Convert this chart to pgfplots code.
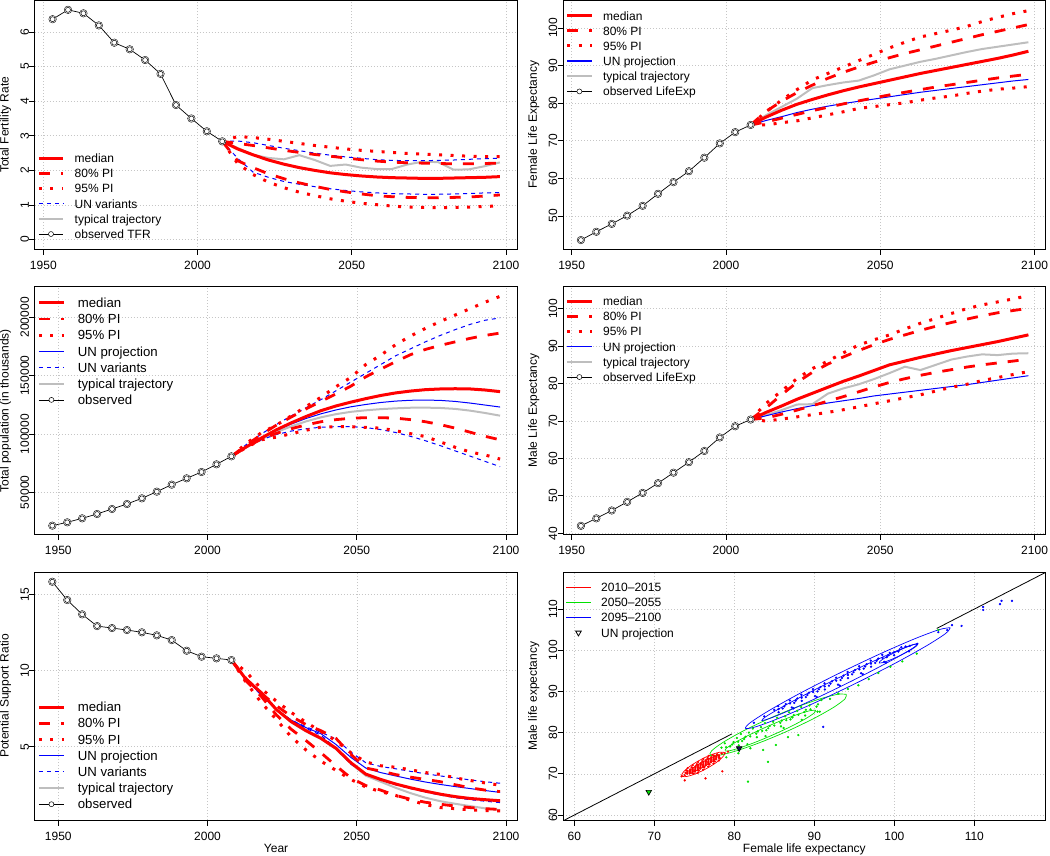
\documentclass[border=0pt]{standalone}
\usepackage{fontspec}
\setmainfont{Liberation Sans}
\usepackage{pgfplots}
\usepackage{pgfplotstable}
\pgfplotsset{compat=1.18}

\definecolor{rred}{RGB}{255,0,0}
\definecolor{rblue}{RGB}{0,0,255}
\definecolor{rgray}{RGB}{190,190,190}
\definecolor{rgreen}{RGB}{0,225,0}
\definecolor{navyfill}{RGB}{20,20,90}

\newcommand{\fs}{\fontsize{12}{14}\selectfont}
\newcommand{\fsb}{\fontsize{13.2}{15}\selectfont}

\pgfplotsset{
  rpanel/.style={
    scale only axis, anchor=south west,
    width=482.7pt, height=248.3pt,
    enlargelimits=false, clip=true,
    axis line style={line width=0.8pt},
    tick pos=left, tick align=outside, major tick length=5.5pt,
    every tick/.style={black, line width=0.8pt},
    grid=major, major grid style={gray!45, line width=0.6pt, dash pattern=on 0.8pt off 2.2pt},
    ticklabel style={font=\fs},
    /pgf/number format/fixed,
    /pgf/number format/assume math mode=true,
    /pgf/number format/1000 sep={},
    scaled ticks=false,
    xticklabel shift=6pt,
    xticklabel style={anchor=north, inner sep=0pt},
    yticklabel style={rotate=90, anchor=south, inner sep=0pt},
    every axis x label/.style={at={(rel axis cs:0.5,0)}, anchor=north, inner sep=0pt, yshift=-24pt, font=\fs},
    every axis y label/.style={at={(rel axis cs:0,0.5)}, xshift=-23.5pt, rotate=90, anchor=south, inner sep=0pt, font=\fs},
  },
  tpanel/.style={rpanel, xtick={1950,2000,2050,2100}},
  leg12/.style={legend cell align=left,
    legend style={draw=none, fill=none, at={(0,1)}, anchor=north west, inner sep=0pt, outer sep=0pt,
      row sep=0pt, font=\fs, nodes={inner sep=0pt, text height=10pt, text depth=5.15pt},
      /tikz/every odd column/.append style={column sep=10pt}},
    legend image code/.code={\draw[mark repeat=2,mark phase=2,##1] plot coordinates {(0pt,1.9pt) (12.2pt,1.9pt) (24.4pt,1.9pt)};}},
  leg13/.style={legend cell align=left,
    legend style={draw=none, fill=none, at={(0,1)}, anchor=north west, inner sep=0pt, outer sep=0pt,
      row sep=0pt, font=\fsb, nodes={inner sep=0pt, text height=10.8pt, text depth=5.4pt},
      /tikz/every odd column/.append style={column sep=12.3pt}},
    legend image code/.code={\draw[mark repeat=2,mark phase=2,##1] plot coordinates {(0pt,2pt) (12.65pt,2pt) (25.3pt,2pt)};}},
  med/.style={color=rred, line width=3pt},
  pi80/.style={color=rred, line width=2.8pt, dash pattern=on 11pt off 11pt},
  pi95/.style={color=rred, line width=3pt, dash pattern=on 3pt off 8.5pt},
  unproj/.style={color=rblue, line width=1pt},
  unvar/.style={color=rblue, line width=1pt, dash pattern=on 4pt off 4pt},
  unprojL/.style={draw=rblue, line width=1.3pt},
  unvarL/.style={draw=rblue, line width=1.3pt, dash pattern=on 4pt off 4pt},
  typ/.style={color=rgray, line width=2pt},
  obsleg/.style={color=black, line width=0.7pt, mark=*, mark size=2.5pt, mark options={solid, fill=white, draw=black, line width=0.5pt}},
  obsline/.style={color=black, line width=0.7pt, forget plot},
  obshalo/.style={only marks, mark=*, mark size=3.8pt, mark options={fill=white, draw=none}, forget plot},
  obsmark/.style={only marks, mark=*, mark size=2.5pt, mark options={fill=white, draw=black, line width=0.5pt}, forget plot},
  pts/.style={only marks, mark=*, mark size=0.95pt, mark options={draw=none}, forget plot},
  ell/.style={line width=0.7pt, smooth, forget plot},
}

% observed series
\pgfplotstableread{
yr v
1953 6.37
1958 6.64
1963 6.54
1968 6.19
1973 5.69
1978 5.50
1983 5.19
1988 4.79
1993 3.89
1998 3.50
2003 3.13
2008 2.84
}\obsTFR
\pgfplotstableread{
yr v
1953 43.6
1958 45.8
1963 47.9
1968 50.1
1973 52.7
1978 55.9
1983 59.0
1988 61.9
1993 65.5
1998 69.3
2003 72.3
2008 74.2
}\obsFLE
\pgfplotstableread{
yr v
1948 21430
1953 24290
1958 27720
1963 31430
1968 35710
1973 40000
1978 44860
1983 50570
1988 56570
1993 62000
1998 67430
2003 74000
2008 80860
}\obsPOP
\pgfplotstableread{
yr v
1953 42.0
1958 44.0
1963 46.1
1968 48.4
1973 50.8
1978 53.4
1983 56.2
1988 59.0
1993 62.0
1998 65.6
2003 68.6
2008 70.4
}\obsMLE
\pgfplotstableread{
yr v
1948 15.83
1953 14.63
1958 13.69
1963 12.92
1968 12.79
1973 12.66
1978 12.51
1983 12.31
1988 12.00
1993 11.30
1998 10.91
2003 10.80
2008 10.69
}\obsPSR

\begin{document}
\begin{tikzpicture}
\useasboundingbox (0,0) rectangle (1050pt,-856pt);

% ---------------- Total fertility rate ----------------
\begin{axis}[tpanel, at={(34.7pt,-249.3pt)}, height=248.8pt,
  xmin=1947.2, xmax=2103.7, ymin=-0.28, ymax=6.91, ytick={0,1,...,6},
  ylabel={Total Fertility Rate},
  leg12, legend style={xshift=2.6pt, yshift=-152.1pt}]
\addplot[typ, forget plot] coordinates {(2008,2.84)(2013,2.65)(2018,2.45)(2023,2.36)(2028,2.32)(2033,2.44)(2038,2.30)(2043,2.13)(2048,2.17)(2053,2.08)(2058,2.04)(2063,2.04)(2068,2.17)(2073,2.25)(2078,2.24)(2083,2.02)(2088,2.03)(2093,2.12)(2098,2.23)};
\addplot[unvar, forget plot] coordinates {(2008,2.84)(2013,2.85)(2018,2.80)(2023,2.72)(2028,2.64)(2033,2.57)(2038,2.50)(2043,2.44)(2048,2.39)(2053,2.35)(2058,2.31)(2063,2.29)(2068,2.28)(2073,2.28)(2078,2.29)(2083,2.30)(2088,2.32)(2093,2.34)(2098,2.35)};
\addplot[unvar, forget plot] coordinates {(2008,2.84)(2013,2.35)(2018,1.95)(2023,1.80)(2028,1.68)(2033,1.60)(2038,1.53)(2043,1.47)(2048,1.42)(2053,1.38)(2058,1.35)(2063,1.33)(2068,1.32)(2073,1.31)(2078,1.31)(2083,1.32)(2088,1.33)(2093,1.35)(2098,1.36)};
\addplot[pi95, forget plot] coordinates {(2008,2.84)(2013,2.98)(2018,2.95)(2023,2.90)(2028,2.84)(2033,2.78)(2038,2.72)(2043,2.67)(2048,2.62)(2053,2.58)(2058,2.55)(2063,2.52)(2068,2.49)(2073,2.47)(2078,2.45)(2083,2.43)(2088,2.41)(2093,2.40)(2098,2.40)};
\addplot[pi95, forget plot] coordinates {(2008,2.84)(2013,2.20)(2018,1.88)(2023,1.66)(2028,1.50)(2033,1.37)(2038,1.27)(2043,1.18)(2048,1.11)(2053,1.05)(2058,1.01)(2063,0.97)(2068,0.94)(2073,0.93)(2078,0.92)(2083,0.93)(2088,0.94)(2093,0.96)(2098,0.97)};
\addplot[pi80, forget plot] coordinates {(2008,2.84)(2013,2.78)(2018,2.72)(2023,2.65)(2028,2.58)(2033,2.52)(2038,2.46)(2043,2.41)(2048,2.36)(2053,2.31)(2058,2.27)(2063,2.24)(2068,2.22)(2073,2.21)(2078,2.20)(2083,2.19)(2088,2.19)(2093,2.20)(2098,2.21)};
\addplot[pi80, forget plot] coordinates {(2008,2.84)(2013,2.28)(2018,2.08)(2023,1.90)(2028,1.76)(2033,1.64)(2038,1.54)(2043,1.45)(2048,1.38)(2053,1.32)(2058,1.27)(2063,1.24)(2068,1.22)(2073,1.21)(2078,1.21)(2083,1.22)(2088,1.23)(2093,1.26)(2098,1.29)};
\addplot[med, forget plot] coordinates {(2008,2.84)(2013,2.62)(2018,2.45)(2023,2.30)(2028,2.18)(2033,2.08)(2038,2.00)(2043,1.93)(2048,1.88)(2053,1.84)(2058,1.81)(2063,1.79)(2068,1.78)(2073,1.77)(2078,1.77)(2083,1.78)(2088,1.79)(2093,1.80)(2098,1.82)};
\addplot[obsline] table[x=yr,y=v] {\obsTFR};
\addplot[obshalo] table[x=yr,y=v] {\obsTFR};
\addplot[obsmark] table[x=yr,y=v] {\obsTFR};
\addlegendimage{med}\addlegendentry{median}
\addlegendimage{pi80}\addlegendentry{80\% PI}
\addlegendimage{pi95}\addlegendentry{95\% PI}
\addlegendimage{unvarL}\addlegendentry{UN variants}
\addlegendimage{typ}\addlegendentry{typical trajectory}
\addlegendimage{obsleg}\addlegendentry{observed TFR}
\end{axis}

% ---------------- Female life expectancy ----------------
\begin{axis}[tpanel, at={(563pt,-249.3pt)}, height=248.8pt,
  xmin=1947.2, xmax=2103.6, ymin=41.14, ymax=107.3, ytick={50,60,...,100},
  ylabel={Female Life Expectancy},
  leg12, legend style={xshift=2.7pt, yshift=-9.5pt}]
\addplot[typ, forget plot] coordinates {(2008,74.2)(2013,76.8)(2018,79.0)(2023,81.2)(2028,84.0)(2033,84.8)(2038,85.5)(2043,86.0)(2048,87.4)(2053,89.0)(2058,90.0)(2063,91.0)(2068,91.8)(2073,92.7)(2078,93.6)(2083,94.4)(2088,95.0)(2093,95.6)(2098,96.2)};
\addplot[unproj, forget plot] coordinates {(2008,74.2)(2013,75.4)(2018,76.4)(2023,77.5)(2028,78.4)(2033,79.2)(2038,79.9)(2043,80.5)(2048,81.1)(2053,81.7)(2058,82.3)(2063,82.9)(2068,83.4)(2073,83.9)(2078,84.4)(2083,84.9)(2088,85.4)(2093,85.9)(2098,86.3)};
\addplot[pi95, forget plot] coordinates {(2008,74.2)(2013,77.7)(2018,80.8)(2023,83.6)(2028,86.2)(2033,87.9)(2038,89.6)(2043,91.3)(2048,93.0)(2053,94.7)(2058,96.2)(2063,97.6)(2068,98.5)(2073,99.4)(2078,100.4)(2083,101.7)(2088,102.8)(2093,103.8)(2098,104.6)};
\addplot[pi95, forget plot] coordinates {(2008,74.2)(2013,74.2)(2018,74.8)(2023,75.3)(2028,76.1)(2033,76.9)(2038,77.7)(2043,78.6)(2048,79.1)(2053,79.6)(2058,80.1)(2063,80.8)(2068,81.4)(2073,81.9)(2078,82.6)(2083,83.2)(2088,83.7)(2093,84.0)(2098,84.4)};
\addplot[pi80, forget plot] coordinates {(2008,74.2)(2013,77.8)(2018,80.5)(2023,82.8)(2028,84.8)(2033,86.6)(2038,88.2)(2043,89.6)(2048,90.9)(2053,92.1)(2058,93.2)(2063,94.2)(2068,95.2)(2073,96.2)(2078,97.2)(2083,98.2)(2088,99.1)(2093,100.0)(2098,100.9)};
\addplot[pi80, forget plot] coordinates {(2008,74.2)(2013,75.0)(2018,76.0)(2023,77.0)(2028,78.0)(2033,78.9)(2038,79.8)(2043,80.6)(2048,81.4)(2053,82.2)(2058,82.9)(2063,83.6)(2068,84.3)(2073,84.9)(2078,85.5)(2083,86.1)(2088,86.7)(2093,87.2)(2098,87.7)};
\addplot[med, forget plot] coordinates {(2008,74.2)(2013,76.3)(2018,78.1)(2023,79.7)(2028,81.0)(2033,82.2)(2038,83.3)(2043,84.3)(2048,85.2)(2053,86.1)(2058,87.0)(2063,87.9)(2068,88.7)(2073,89.5)(2078,90.3)(2083,91.1)(2088,91.9)(2093,92.8)(2098,93.8)};
\addplot[obsline] table[x=yr,y=v] {\obsFLE};
\addplot[obshalo] table[x=yr,y=v] {\obsFLE};
\addplot[obsmark] table[x=yr,y=v] {\obsFLE};
\addlegendimage{med}\addlegendentry{median}
\addlegendimage{pi80}\addlegendentry{80\% PI}
\addlegendimage{pi95}\addlegendentry{95\% PI}
\addlegendimage{unprojL}\addlegendentry{UN projection}
\addlegendimage{typ}\addlegendentry{typical trajectory}
\addlegendimage{obsleg}\addlegendentry{observed LifeExp}
\end{axis}

% ---------------- Total population ----------------
\begin{axis}[tpanel, at={(34.7pt,-534.7pt)}, height=248pt,
  xmin=1942.1, xmax=2103.8, ymin=13680, ymax=226250, ytick={50000,100000,150000,200000},
  ylabel={Total population (in thousands)},
  leg13, legend style={xshift=2.6pt, yshift=-9.9pt}]
\addplot[typ, forget plot] coordinates {(2008,80860)(2013,88500)(2018,95500)(2023,101500)(2028,106500)(2033,110800)(2038,114300)(2043,117000)(2048,119000)(2053,120300)(2058,121300)(2063,122000)(2068,122500)(2073,122600)(2078,122300)(2083,121500)(2088,120000)(2093,118000)(2098,115700)};
\addplot[unproj, forget plot] coordinates {(2008,80860)(2013,89000)(2018,96500)(2023,103000)(2028,108500)(2033,113300)(2038,117300)(2043,120600)(2048,123300)(2053,125300)(2058,127000)(2063,128200)(2068,128900)(2073,129100)(2078,128800)(2083,127900)(2088,126500)(2093,124800)(2098,123100)};
\addplot[unvar, forget plot] coordinates {(2008,80860)(2013,91000)(2018,100000)(2023,108000)(2028,115500)(2033,122500)(2038,129500)(2043,137000)(2048,144500)(2053,152000)(2058,159500)(2063,167000)(2068,173000)(2073,179000)(2078,184500)(2083,189500)(2088,194000)(2093,197500)(2098,199500)};
\addplot[unvar, forget plot] coordinates {(2008,80860)(2013,88500)(2018,95000)(2023,99500)(2028,102500)(2033,104500)(2038,105800)(2043,106300)(2048,106300)(2053,105500)(2058,103800)(2063,101300)(2068,98000)(2073,94200)(2078,90000)(2083,85500)(2088,81000)(2093,76500)(2098,72000)};
\addplot[pi95, forget plot] coordinates {(2008,80860)(2013,92000)(2018,101000)(2023,107500)(2028,115500)(2033,123500)(2038,131500)(2043,140500)(2048,148500)(2053,159500)(2058,167500)(2063,176500)(2068,184000)(2073,190500)(2078,196500)(2083,202000)(2088,207500)(2093,213000)(2098,218000)};
\addplot[pi95, forget plot] coordinates {(2008,80860)(2013,88500)(2018,95000)(2023,97300)(2028,100200)(2033,103200)(2038,105900)(2043,106300)(2048,106300)(2053,105600)(2058,105000)(2063,102800)(2068,100300)(2073,97800)(2078,93200)(2083,88600)(2088,84500)(2093,82000)(2098,78500)};
\addplot[pi80, forget plot] coordinates {(2008,80860)(2013,90500)(2018,99500)(2023,107500)(2028,114500)(2033,121500)(2038,128000)(2043,134300)(2048,141000)(2053,149000)(2058,155500)(2063,162000)(2068,168000)(2073,172500)(2078,176000)(2083,179000)(2088,182000)(2093,184500)(2098,186500)};
\addplot[pi80, forget plot] coordinates {(2008,80860)(2013,89000)(2018,95500)(2023,100500)(2028,104500)(2033,107800)(2038,110500)(2043,112300)(2048,113500)(2053,114000)(2058,114000)(2063,113600)(2068,112300)(2073,110500)(2078,108000)(2083,105000)(2088,101500)(2093,98000)(2098,95000)};
\addplot[med, forget plot] coordinates {(2008,80860)(2013,89000)(2018,96500)(2023,103500)(2028,109500)(2033,115000)(2038,120000)(2043,124000)(2048,127300)(2053,130300)(2058,133000)(2063,135200)(2068,136800)(2073,138000)(2078,138600)(2083,138800)(2088,138600)(2093,137700)(2098,136300)};
\addplot[obsline] table[x=yr,y=v] {\obsPOP};
\addplot[obshalo] table[x=yr,y=v] {\obsPOP};
\addplot[obsmark] table[x=yr,y=v] {\obsPOP};
\addlegendimage{med}\addlegendentry{median}
\addlegendimage{pi80}\addlegendentry{80\% PI}
\addlegendimage{pi95}\addlegendentry{95\% PI}
\addlegendimage{unprojL}\addlegendentry{UN projection}
\addlegendimage{unvarL}\addlegendentry{UN variants}
\addlegendimage{typ}\addlegendentry{typical trajectory}
\addlegendimage{obsleg}\addlegendentry{observed}
\end{axis}

% ---------------- Male life expectancy ----------------
\begin{axis}[tpanel, at={(563pt,-534.3pt)}, height=247.6pt,
  xmin=1947.2, xmax=2103.6, ymin=39.74, ymax=105.87, ytick={40,50,...,100},
  ylabel={Male Life Expectancy},
  leg12, legend style={xshift=2.7pt, yshift=-8.9pt}]
\addplot[typ, forget plot] coordinates {(2008,70.4)(2013,71.6)(2018,72.9)(2023,74.4)(2028,74.5)(2033,77.3)(2038,78.7)(2043,79.8)(2048,81.2)(2053,82.8)(2058,84.5)(2063,83.6)(2068,85.0)(2073,86.4)(2078,87.2)(2083,87.8)(2088,87.6)(2093,88.0)(2098,88.1)};
\addplot[unproj, forget plot] coordinates {(2008,70.4)(2013,71.4)(2018,72.4)(2023,73.3)(2028,74.1)(2033,74.8)(2038,75.4)(2043,76.0)(2048,76.7)(2053,77.2)(2058,77.7)(2063,78.2)(2068,78.7)(2073,79.2)(2078,79.7)(2083,80.3)(2088,80.9)(2093,81.5)(2098,82.1)};
\addplot[pi95, forget plot] coordinates {(2008,70.4)(2013,74.7)(2018,78.0)(2023,81.3)(2028,84.0)(2033,86.0)(2038,88.2)(2043,90.3)(2048,91.7)(2053,93.0)(2058,94.6)(2063,96.1)(2068,97.4)(2073,98.7)(2078,100.0)(2083,101.0)(2088,101.8)(2093,102.6)(2098,103.5)};
\addplot[pi95, forget plot] coordinates {(2008,70.4)(2013,70.0)(2018,70.5)(2023,71.1)(2028,71.7)(2033,72.3)(2038,73.0)(2043,73.8)(2048,74.6)(2053,75.4)(2058,76.2)(2063,77.0)(2068,78.0)(2073,79.0)(2078,79.8)(2083,80.8)(2088,81.6)(2093,82.4)(2098,83.2)};
\addplot[pi80, forget plot] coordinates {(2008,70.4)(2013,73.5)(2018,77.0)(2023,80.3)(2028,83.0)(2033,85.2)(2038,87.1)(2043,88.8)(2048,90.4)(2053,91.8)(2058,93.0)(2063,94.2)(2068,95.3)(2073,96.3)(2078,97.2)(2083,98.1)(2088,98.9)(2093,99.5)(2098,100.1)};
\addplot[pi80, forget plot] coordinates {(2008,70.4)(2013,70.8)(2018,71.8)(2023,72.9)(2028,74.1)(2033,75.3)(2038,76.5)(2043,77.8)(2048,79.1)(2053,80.3)(2058,81.3)(2063,82.2)(2068,83.0)(2073,83.7)(2078,84.4)(2083,85.0)(2088,85.5)(2093,86.0)(2098,86.5)};
\addplot[med, forget plot] coordinates {(2008,70.4)(2013,72.3)(2018,74.0)(2023,75.8)(2028,77.4)(2033,79.0)(2038,80.6)(2043,82.0)(2048,83.5)(2053,85.0)(2058,86.0)(2063,87.0)(2068,87.9)(2073,88.8)(2078,89.6)(2083,90.4)(2088,91.2)(2093,92.1)(2098,93.0)};
\addplot[obsline] table[x=yr,y=v] {\obsMLE};
\addplot[obshalo] table[x=yr,y=v] {\obsMLE};
\addplot[obsmark] table[x=yr,y=v] {\obsMLE};
\addlegendimage{med}\addlegendentry{median}
\addlegendimage{pi80}\addlegendentry{80\% PI}
\addlegendimage{pi95}\addlegendentry{95\% PI}
\addlegendimage{unprojL}\addlegendentry{UN projection}
\addlegendimage{typ}\addlegendentry{typical trajectory}
\addlegendimage{obsleg}\addlegendentry{observed LifeExp}
\end{axis}

% ---------------- Potential support ratio ----------------
\begin{axis}[tpanel, at={(34.7pt,-820pt)}, height=248pt,
  xmin=1942.1, xmax=2103.8, ymin=0.186, ymax=16.47, ytick={5,10,15},
  xlabel={Year}, ylabel={Potential Support Ratio},
  leg13, legend style={xshift=2.6pt, yshift=-128.9pt}]
\addplot[typ, forget plot] coordinates {(2008,10.69)(2013,9.40)(2018,8.50)(2023,7.45)(2028,6.60)(2033,6.00)(2038,5.50)(2043,4.85)(2048,3.90)(2053,3.10)(2058,2.70)(2063,2.30)(2068,1.95)(2073,1.65)(2078,1.42)(2083,1.25)(2088,1.10)(2093,0.95)(2098,0.84)};
\addplot[unvar, forget plot] coordinates {(2008,10.69)(2013,9.40)(2018,8.40)(2023,7.45)(2028,6.75)(2033,6.30)(2038,5.95)(2043,5.50)(2048,4.65)(2053,3.95)(2058,3.70)(2063,3.55)(2068,3.38)(2073,3.22)(2078,3.08)(2083,2.95)(2088,2.82)(2093,2.70)(2098,2.60)};
\addplot[unvar, forget plot] coordinates {(2008,10.69)(2013,9.40)(2018,8.40)(2023,7.45)(2028,6.75)(2033,6.20)(2038,5.75)(2043,4.90)(2048,3.85)(2053,3.20)(2058,2.80)(2063,2.50)(2068,2.25)(2073,2.02)(2078,1.82)(2083,1.65)(2088,1.52)(2093,1.42)(2098,1.33)};
\addplot[unproj, forget plot] coordinates {(2008,10.69)(2013,9.40)(2018,8.40)(2023,7.45)(2028,6.75)(2033,6.25)(2038,5.85)(2043,5.15)(2048,4.30)(2053,3.60)(2058,3.30)(2063,3.08)(2068,2.87)(2073,2.68)(2078,2.52)(2083,2.38)(2088,2.25)(2093,2.12)(2098,2.00)};
\addplot[pi95, forget plot] coordinates {(2008,10.69)(2013,9.90)(2018,8.80)(2023,8.00)(2028,7.25)(2033,6.60)(2038,6.00)(2043,5.40)(2048,4.60)(2053,4.00)(2058,3.75)(2063,3.65)(2068,3.48)(2073,3.30)(2078,3.18)(2083,2.95)(2088,2.78)(2093,2.62)(2098,2.47)};
\addplot[pi95, forget plot] coordinates {(2008,10.69)(2013,9.20)(2018,7.90)(2023,6.80)(2028,5.65)(2033,4.78)(2038,4.05)(2043,3.45)(2048,2.85)(2053,2.35)(2058,2.05)(2063,1.80)(2068,1.48)(2073,1.20)(2078,1.00)(2083,0.93)(2088,0.85)(2093,0.80)(2098,0.78)};
\addplot[pi80, forget plot] coordinates {(2008,10.69)(2013,9.45)(2018,8.50)(2023,7.70)(2028,7.00)(2033,6.45)(2038,6.05)(2043,5.55)(2048,4.50)(2053,3.60)(2058,3.40)(2063,3.17)(2068,3.00)(2073,2.85)(2078,2.70)(2083,2.50)(2088,2.30)(2093,2.15)(2098,2.05)};
\addplot[pi80, forget plot] coordinates {(2008,10.69)(2013,9.30)(2018,8.30)(2023,7.10)(2028,6.15)(2033,5.40)(2038,4.60)(2043,3.75)(2048,2.95)(2053,2.45)(2058,2.15)(2063,1.80)(2068,1.55)(2073,1.35)(2078,1.22)(2083,1.10)(2088,1.00)(2093,0.93)(2098,0.88)};
\addplot[med, forget plot] coordinates {(2008,10.69)(2013,9.40)(2018,8.55)(2023,7.45)(2028,6.65)(2033,6.05)(2038,5.55)(2043,4.90)(2048,3.95)(2053,3.20)(2058,2.85)(2063,2.55)(2068,2.30)(2073,2.08)(2078,1.88)(2083,1.72)(2088,1.60)(2093,1.52)(2098,1.45)};
\addplot[obsline] table[x=yr,y=v] {\obsPSR};
\addplot[obshalo] table[x=yr,y=v] {\obsPSR};
\addplot[obsmark] table[x=yr,y=v] {\obsPSR};
\addlegendimage{med}\addlegendentry{median}
\addlegendimage{pi80}\addlegendentry{80\% PI}
\addlegendimage{pi95}\addlegendentry{95\% PI}
\addlegendimage{unprojL}\addlegendentry{UN projection}
\addlegendimage{unvarL}\addlegendentry{UN variants}
\addlegendimage{typ}\addlegendentry{typical trajectory}
\addlegendimage{obsleg}\addlegendentry{observed}
\end{axis}

% ---------------- Female vs male life expectancy ----------------
\begin{axis}[rpanel, at={(563pt,-820pt)}, height=248pt,
  xmin=58.58, xmax=118.92, ymin=58.79, ymax=119.0,
  xtick={60,70,...,110}, ytick={60,70,...,110},
  xlabel={Female life expectancy}, ylabel={Male life expectancy},
  leg12, legend style={xshift=2.7pt, yshift=-9.6pt}]
\addplot[black, line width=0.8pt, forget plot] coordinates {(58.5,58.5)(79.7,79.7)};
\addplot[black, line width=0.8pt, forget plot] coordinates {(105.3,105.3)(119.1,119.1)};
% 2010-2015
\addplot[pts, color=rred] coordinates {
(73.79,69.675)(74.12,70.05)(73.895,70.248)(74.45,70.425)(74.15,70.689)(74.75,70.161)(74.78,70.8)(74.48,71.064)(75.08,70.536)
(75.11,71.175)(74.81,71.439)(75.41,70.911)(75.44,71.55)(75.14,71.814)(75.74,71.286)(75.77,71.925)(75.47,72.189)(76.07,71.661)
(76.1,72.3)(75.8,72.564)(76.4,72.036)(76.43,72.675)(76.13,72.939)(76.73,72.411)(76.76,73.05)(76.46,73.314)(77.06,72.786)
(77.09,73.425)(76.79,73.689)(77.39,73.161)(77.42,73.8)(77.12,74.064)(77.72,73.536)(77.75,74.175)(77.45,74.439)(78.05,73.911)
(78.08,74.55)(77.855,74.748)(78.41,74.925)
(74.135,70.37)(74.435,70.106)(74.465,70.745)(74.765,70.481)(74.795,71.12)(75.095,70.856)(75.125,71.495)(75.425,71.231)
(75.455,71.87)(75.755,71.606)(75.785,72.245)(76.085,71.981)(76.115,72.62)(76.415,72.356)(76.445,72.995)(76.745,72.731)
(76.775,73.37)(77.075,73.106)(77.105,73.745)(77.405,73.481)(77.435,74.12)(77.735,73.856)(77.765,74.495)(78.065,74.231)
(74.0,70.821)(74.9,70.029)(74.66,71.571)(75.56,70.779)(75.32,72.321)(76.22,71.529)(75.98,73.071)(76.88,72.279)
(76.64,73.821)(77.54,73.029)(77.3,74.571)(78.2,73.779)
(74.143,71.361)(75.418,70.239)(74.803,72.111)(76.078,70.989)(75.463,72.861)(76.738,71.739)(76.123,73.611)(77.398,72.489)
(76.783,74.361)(78.058,73.239)
(73.8,68.4)(76.4,68.9)(78.5,70.6)(73.4,69.4)(79.2,75.4)(78.8,75.0)};
\addplot[ell, color=rred] coordinates {(78.674,75.225)(78.191,75.256)(77.39,74.835)(76.393,74.03)(75.35,72.96)(74.421,71.79)(73.75,70.699)(73.435,69.85)(73.526,69.375)(74.009,69.344)(74.81,69.765)(75.807,70.57)(76.85,71.64)(77.779,72.81)(78.45,73.901)(78.765,74.75)(78.674,75.225)};
\addplot[ell, color=rred] coordinates {(77.816,74.25)(77.557,74.216)(77.074,73.889)(76.445,73.321)(75.763,72.597)(75.131,71.827)(74.648,71.131)(74.385,70.612)(74.384,70.35)(74.643,70.384)(75.126,70.711)(75.755,71.279)(76.438,72.003)(77.069,72.773)(77.552,73.469)(77.815,73.988)(77.816,74.25)};
% 2050-2055
\addplot[pts, color=rgreen] coordinates {
(78.386,76.364)(79.468,76.644)(78.811,77.398)(79.894,77.678)(80.551,76.924)(80.319,78.712)(80.976,77.958)(81.402,78.992)(80.81,79.671)
(81.827,80.026)(82.813,78.895)(82.91,80.306)(82.318,80.985)(83.335,81.34)(83.992,80.586)(84.418,81.62)(83.826,82.299)(84.843,82.654)
(85.829,81.523)(85.926,82.934)(85.334,83.613)(86.351,83.968)(87.008,83.214)(87.434,84.248)(86.842,84.927)(87.859,85.282)(88.845,84.151)
(88.942,85.562)(88.35,86.241)(89.367,86.596)(90.45,86.876)(90.875,87.91)(91.958,88.19)
(78.96,76.467)(79.714,77.124)(80.468,77.781)(81.222,78.438)(81.976,79.095)(82.73,79.752)(83.484,80.409)(84.238,81.066)
(84.992,81.723)(85.746,82.38)(86.5,83.037)(87.254,83.694)(88.008,84.351)(88.762,85.008)(89.516,85.665)(90.27,86.322)
(81.633,77.204)(83.895,79.175)(86.157,81.146)(88.419,83.117)(90.681,85.088)
(93.0,89.5)(94.2,90.6)(95.5,91.5)(96.8,93.0)(98.0,94.5)(99.5,96.0)(101.0,97.3)(102.8,99.2)
(88.0,79.4)(83.6,75.8)(84.2,72.9)(81.7,68.1)(105.5,104.9)(90.4,85.1)(86.7,78.9)(82.0,76.2)(80.5,75.0)(79.0,74.0)(85.2,77.0)};
\addplot[ell, color=rgreen] coordinates {(93.998,89.304)(92.874,89.29)(90.626,88.148)(87.602,86.06)(84.252,83.333)(81.092,80.388)(78.61,77.678)(77.17,75.608)(77.002,74.496)(78.126,74.51)(80.374,75.652)(83.398,77.74)(86.748,80.467)(89.908,83.412)(92.39,86.122)(93.83,88.192)(93.998,89.304)};
\addplot[ell, color=rgreen] coordinates {(90.155,85.428)(89.473,85.342)(88.034,84.517)(86.059,83.084)(83.843,81.254)(81.727,79.31)(80.038,77.549)(79.023,76.236)(78.845,75.572)(79.527,75.658)(80.966,76.483)(82.941,77.916)(85.157,79.746)(87.273,81.69)(88.962,83.451)(89.977,84.764)(90.155,85.428)};
% 2095-2100
\addplot[pts, color=rblue] coordinates {
(84.977,85.53)(85.53,84.952)(86.046,85.861)(85.492,86.439)(86.422,86.913)(87.182,86.118)(87.491,87.244)(86.937,87.822)
(87.867,88.296)(88.42,87.718)(88.936,88.627)(88.382,89.205)(89.312,89.679)(90.072,88.884)(90.381,90.01)(89.827,90.588)
(90.757,91.062)(91.31,90.484)(91.826,91.393)(91.272,91.971)(92.202,92.445)(92.962,91.65)(93.271,92.776)(92.717,93.354)
(93.647,93.828)(94.2,93.25)(94.716,94.159)(94.162,94.737)(95.092,95.211)(95.852,94.416)(96.161,95.542)(95.607,96.12)
(96.537,96.594)(97.09,96.016)(97.606,96.925)(97.052,97.503)(97.982,97.977)(98.742,97.182)(99.051,98.308)(98.497,98.886)
(99.427,99.36)(99.98,98.782)(100.496,99.691)(100.872,100.743)(101.941,101.074)(102.87,101.548)
(85.511,85.695)(86.234,86.386)(86.956,87.078)(87.679,87.769)(88.401,88.461)(89.124,89.152)(89.846,89.844)(90.569,90.535)
(91.291,91.227)(92.014,91.918)(92.736,92.61)(93.459,93.301)(94.181,93.993)(94.904,94.684)(95.626,95.376)(96.349,96.067)
(97.071,96.759)(97.794,97.45)(98.516,98.142)(99.239,98.833)(99.961,99.525)(100.684,100.216)(101.406,100.908)
(87.39,85.901)(90.28,88.667)(93.17,91.433)(96.06,94.199)(98.95,96.965)(101.84,99.731)
(83.739,83.93)(82.433,82.403)
(91.1,81.4)(105.5,104.4)(106.6,104.9)(108.4,105.9)(107.2,106.1)(111.1,109.8)(111.1,110.5)(113.2,111.2)(113.4,112.0)(114.7,112.0)};
\addplot[ell, color=rblue] coordinates {(106.988,105.49)(105.592,105.003)(102.459,102.721)(98.076,99.006)(93.094,94.406)(88.28,89.63)(84.377,85.413)(81.96,82.383)(81.412,81.01)(82.808,81.497)(85.941,83.779)(90.324,87.494)(95.306,92.094)(100.12,96.87)(104.023,101.087)(106.44,104.117)(106.988,105.49)};
\addplot[ell, color=rblue] coordinates {(102.954,101.635)(101.988,101.161)(99.68,99.334)(96.393,96.442)(92.612,92.914)(88.921,89.292)(85.888,86.134)(83.962,83.909)(83.446,82.965)(84.412,83.439)(86.72,85.266)(90.007,88.158)(93.788,91.686)(97.479,95.308)(100.512,98.466)(102.438,100.691)(102.954,101.635)};
\addplot[ell, color=rblue] coordinates {(102.884,101.482)(102.571,101.447)(101.941,101.068)(101.093,100.408)(100.154,99.561)(99.267,98.66)(98.569,97.842)(98.165,97.229)(98.116,96.918)(98.429,96.953)(99.059,97.332)(99.907,97.992)(100.846,98.839)(101.733,99.74)(102.431,100.558)(102.835,101.171)(102.884,101.482)};
% UN projection
\addplot[only marks, mark=triangle*, mark size=3.2pt, mark options={rotate=180, fill=rgreen, draw=black, line width=0.7pt}, forget plot] coordinates {(69.3,65.6)};
\addplot[only marks, mark=triangle*, mark size=3.2pt, mark options={rotate=180, fill=navyfill, draw=black, line width=0.7pt}, forget plot] coordinates {(80.6,76.2)};
\addlegendimage{draw=rred, line width=1.1pt}\addlegendentry{2010–2015}
\addlegendimage{draw=rgreen, line width=1.1pt}\addlegendentry{2050–2055}
\addlegendimage{draw=rblue, line width=1.1pt}\addlegendentry{2095–2100}
\addlegendimage{legend image code/.code={\draw[black, line width=0.8pt, mark=triangle, mark size=3.2pt, mark options={rotate=180}] plot coordinates {(12.2pt,1.9pt)};}}\addlegendentry{UN projection}
\end{axis}
\end{tikzpicture}
\end{document}
